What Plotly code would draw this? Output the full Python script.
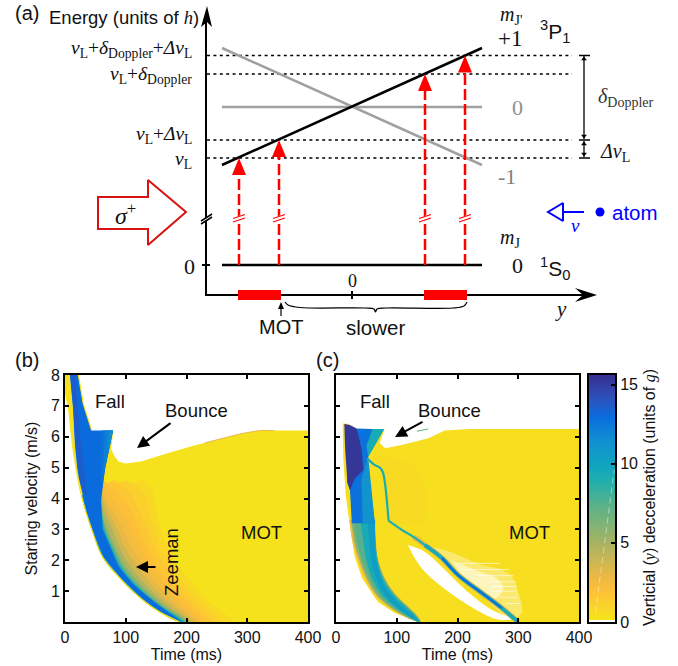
import plotly.graph_objects as go
from plotly.colors import sample_colorscale

W, H = 678, 666
SANS = "Liberation Sans"
SERIF = "Liberation Serif"
ZMAX = 15.6

# ---------- colour scale (units of g) ----------
cbar_stops = [0.0, 0.4, 1.0, 2.0, 3.0, 5.0, 7.5, 9.0, 10.0, 11.5, 13.0, 14.0, 15.6]
cbar_colors = ["#F5E61A", "#F6E01C", "#FAD42A", "#FDBF38", "#E9B945", "#A8B362", "#55B28C",
               "#1FAFAF", "#0FA4BF", "#1190D2", "#0A6BDD", "#2A54BF", "#37308F"]
cbar_levels = [0.2, 0.4, 1.0, 2.0, 3.0, 4.0, 5.0, 6.0, 7.5, 9.0, 10.0, 11.5, 13.0, 14.0, 15.6]
cbar_ticks = [0, 5, 10, 15]
cbar_x = [0, 1]

# ---------- panel ticks ----------
time_ticks = [0, 100, 200, 300, 400]
vel_ticks = [1, 2, 3, 4, 5, 6, 7, 8]

# ---------- panel (b) outlines: time (ms), starting velocity (m/s) ----------
b_left_t = [0, 3, 6.6, 12.6, 18, 21, 27, 34.6, 46, 62, 90.5, 128, 156, 189]
b_left_v = [7.5, 7.2, 6.8, 5.7, 5, 4.64, 4.1, 3.56, 2.88, 2.1, 1.42, 0.71, 0.32, 0]
b_top_t = [79.5, 76, 82, 88, 100, 125, 170, 210, 250, 290, 320, 400, 400]
b_top_v = [6.2, 5.6, 5.35, 5.2, 5.13, 5.2, 5.47, 5.7, 5.9, 6.1, 6.2, 6.2, 0]
b_strip_t = [0, 8, 13, 16.5, 20, 18, 12.6, 6.6, 3, 0]
b_strip_v = [8, 8, 6.96, 5.7, 5, 5, 5.7, 6.8, 7.2, 7.5]
# each band: deceleration level, then its right edge in time at these velocities
b_band_v = [4.6, 4.2, 3.6, 3.0, 2.4, 1.8, 1.2, 0.6, 0.0]
b_bands = [
    (0.8, [130, 145, 150, 158, 170, 187, 212, 240, 277]),
    (1.2, [100, 128, 138, 147, 158, 175, 198, 225, 255]),
    (1.6, [80, 105, 122, 135, 148, 165, 187, 212, 242]),
    (2.0, [62, 85, 108, 122, 135, 152, 175, 202, 232]),
    (2.4, [60, 70, 92, 110, 123, 142, 165, 192, 224]),
    (3.0, [60, 63, 78, 96, 110, 130, 153, 182, 216]),
    (3.8, [None, 60, 70, 86, 99, 119, 143, 173, 210]),
    (4.8, [None, 59, 65, 78, 90, 108, 133, 165, 205]),
    (6.0, [None, 59, 60, 70, 83, 100, 125, 159, 201]),
    (7.5, [None, 59, 60, 67, 80, 95, 120, 155, 198]),
    (9.0, [None, 59, 61, 65, 78, 92, 117, 152, 196]),
    (11.0, [None, 58.5, 60, 63, 76, 90, 115, 151, 194]),
]
b_wedge_t = [8, 22, 30, 44, 79, 74, 66, 59, 58, 59, 62, 75, 88, 113, 150, 192,
             158, 130, 92.5, 64, 47.5, 36, 29, 23, 20, 16.5, 13]
b_wedge_v = [8, 8, 7.07, 6.2, 6.2, 5.72, 4.97, 3.89, 4.2, 3.6, 3.0, 2.4, 1.8, 1.2, 0.6, 0,
             0.32, 0.71, 1.42, 2.1, 2.88, 3.56, 4.1, 4.64, 5, 5.7, 6.96]
b_stripes = [
    (12.6, [60, 79, 74, 66, 60], [6.2, 6.2, 5.72, 4.97, 4.2]),
    (12.1, [66, 79, 74, 66, 63], [6.2, 6.2, 5.72, 4.97, 4.8]),
    (11.6, [72, 79, 74, 70], [6.2, 6.2, 5.72, 5.6]),
]
b_dark_t = [8.5, 17, 24, 36, 30, 24, 17, 13.5]
b_dark_v = [8, 8, 6.2, 4.1, 4.2, 4.64, 5.7, 6.96]
b_rim_t = [22, 30, 44]
b_rim_v = [8, 7.07, 6.2]
b_edge_t = [230, 290, 320, 345]
b_edge_v = [5.8, 6.1, 6.2, 6.2]

# ---------- panel (c) outlines ----------
c_left_t = [11, 12, 16, 20, 22, 31, 43, 69, 97, 135]
c_left_v = [6.43, 5.3, 4.1, 3.62, 3.24, 2.1, 1.42, 0.65, 0.29, 0]
c_top_t = [135, 400, 400, 220, 179, 152, 108, 81, 72, 75, 80, 30, 20, 11]
c_top_v = [0, 0, 6.25, 6.25, 6.2, 5.95, 5.73, 5.63, 5.8, 5.95, 6.25, 6.25, 6.42, 6.43]
c_tint_t = [60, 90, 130, 150, 140, 92, 84, 76, 60]
c_tint_v = [5.5, 5.3, 5.0, 4.0, 3.2, 3.3, 4.4, 4.9, 5.3]
# falling band below the blue block: left and right edges in time at these velocities
c_band_v = [3.3, 2.6, 2.0, 1.4, 0.9, 0.5, 0.2, 0.0]
c_band_layers = [
    (2.5, [22, 27, 36, 48, 63, 85, 110, 135], [65, 66, 70, 81, 98, 119, 134, 140]),
    (6.0, [25, 30, 39, 51, 66, 88, 112, 135], [64, 65, 69, 80, 97, 118, 133, 139]),
    (7.5, [29, 34, 43, 55, 70, 92, 115, 135], [64, 65, 69, 79, 96, 116, 132, 139]),
    (9.5, [40, 45, 50, 60, 75, 96, 118, 136], [64, 65, 68, 77, 93, 114, 130, 138]),
    (10.5, [52, 55, 58, 67, 80, 100, 120, 137], [64, 64.5, 66, 74, 88, 108, 126, 137]),
]
c_upper_t = [18, 34, 60, 79, 66, 53, 51, 64, 26, 23]
c_upper_v = [4.54, 6.27, 6.25, 6.25, 5.8, 5.35, 5.2, 3.2, 3.2, 4.27]
c_upperteal_t = [50, 53, 64, 44, 42]
c_upperteal_v = [5.2, 5.35, 3.2, 3.2, 4.6]
c_tip_t = [60, 79, 66, 53, 50]
c_tip_v = [6.25, 6.25, 5.8, 5.35, 5.7]
c_navy_t = [13.7, 23, 34, 42, 45, 31, 23, 18.7, 15]
c_navy_v = [6.41, 6.38, 6.27, 5.62, 4.92, 4.65, 4.27, 4.54, 5.62]
c_fuzz_t = [150, 184, 240, 270, 290, 300, 306, 290, 240, 180]
c_fuzz_v = [2.45, 2.3, 1.85, 1.72, 1.45, 0.95, 0.3, 0.1, 0.85, 1.9]
c_fuzz2_t = [190, 240, 262, 275, 262, 230, 205]
c_fuzz2_v = [2.0, 1.6, 1.45, 1.1, 0.75, 1.05, 1.55]
c_streak_start = [200, 215, 230, 245, 255, 260, 270, 280]
c_streak_end = [270, 285, 292, 296, 298, 296, 298, 304]
c_streak_v = [1.9, 1.7, 1.5, 1.3, 1.15, 1.0, 0.8, 0.6]
c_lens_t = [118.5, 146.5, 174.5, 201, 229, 257, 290, 267, 234, 201, 168, 142, 127]
c_lens_v = [2.49, 2.27, 1.78, 1.26, 0.78, 0.39, 0.1, 0.08, 0.36, 0.76, 1.24, 1.72, 2.15]
c_thread_t = [51.6, 64, 72, 77, 81, 86.5]
c_thread_v = [5.29, 5.08, 5.0, 4.86, 4.43, 3.29]
c_diag_t = [86, 108.6, 128, 146.5, 174.5, 201, 240, 273, 300]
c_diag_v = [3.29, 2.98, 2.75, 2.49, 2.07, 1.52, 0.94, 0.45, 0.0]
c_sliver_t = [133, 152]
c_sliver_v = [6.18, 6.25]

# ---------- panel (a) schematic, in page pixels ----------
level_lo = [222, 482]
level_y_up = [165, 48]
level_y_down = [48, 165]
level_y_mid = [107, 107]
level_y_ground = [265, 265]
dotted_y = [55.5, 74, 140, 158]
laser_x = [239, 279, 425, 465]
laser_tip = [158, 140, 74, 55.5]
slow_bars = [(238, 281), (424, 467)]
sigma_x = [98, 148, 148, 186, 148, 148, 98]
sigma_y = [197, 197, 180, 212, 245, 229, 229]
brace_x = [285, 288, 300, 365, 374, 375.5, 377, 386, 453, 464, 467]
brace_y = [302, 305, 307.5, 308, 309, 312, 309, 308, 308, 306, 302]


def col(z):
    scale = [[s / ZMAX, c] for s, c in zip(cbar_stops, cbar_colors)]
    return sample_colorscale(scale, [z / ZMAX])[0]


fig = go.Figure()


def poly(xa, ya, xs, ys, color, opacity=1.0, shape="linear"):
    fig.add_trace(go.Scatter(x=xs, y=ys, xaxis=xa, yaxis=ya, mode="lines", fill="toself",
                             fillcolor=color, line=dict(width=0, shape=shape), opacity=opacity,
                             hoverinfo="skip", showlegend=False))


def line(xa, ya, xs, ys, color, width, dash=None, shape="linear", opacity=1.0):
    fig.add_trace(go.Scatter(x=xs, y=ys, xaxis=xa, yaxis=ya, mode="lines", opacity=opacity,
                             line=dict(color=color, width=width, dash=dash, shape=shape),
                             hoverinfo="skip", showlegend=False))


# ---- panel b ----
poly("x", "y", b_top_t + b_left_t[::-1][:-4], b_top_v + b_left_v[::-1][:-4], col(0.3))
poly("x", "y", b_strip_t, b_strip_v, col(0.3))
for z, ts in b_bands:
    pts = [(t, v) for t, v in zip(ts, b_band_v) if t is not None]
    keep = [i for i in range(len(b_left_v)) if b_left_v[i] < pts[0][1]]
    poly("x", "y", [p[0] for p in pts] + [b_left_t[i] for i in keep[::-1]],
         [p[1] for p in pts] + [b_left_v[i] for i in keep[::-1]], col(z), shape="spline")
poly("x", "y", b_wedge_t, b_wedge_v, col(13.0))
poly("x", "y", b_dark_t, b_dark_v, col(13.6))
for z, ts, vs in b_stripes:
    poly("x", "y", ts, vs, col(z))
line("x", "y", b_left_t, b_left_v, col(0.3), 1.2, shape="spline")
line("x", "y", b_rim_t, b_rim_v, col(0.3), 1.2)
line("x", "y", b_edge_t, b_edge_v, col(3.0), 1.0)

# ---- panel c ----
poly("x2", "y2", c_top_t + c_left_t, c_top_v + c_left_v, col(0.5))
poly("x2", "y2", c_tint_t, c_tint_v, col(0.72), shape="spline")
for z, lt, rt in c_band_layers:
    poly("x2", "y2", lt + rt[::-1], c_band_v + c_band_v[::-1], col(z), shape="spline")
poly("x2", "y2", c_upper_t, c_upper_v, col(12.7))
poly("x2", "y2", c_upperteal_t, c_upperteal_v, col(11.2))
poly("x2", "y2", c_tip_t, c_tip_v, col(9.5))
poly("x2", "y2", c_navy_t, c_navy_v, col(15.3))
poly("x2", "y2", c_fuzz_t, c_fuzz_v, "#FFFFFF", 0.35, shape="spline")
poly("x2", "y2", c_fuzz2_t, c_fuzz2_v, "#FFFFFF", 0.55, shape="spline")
for a, b, v in zip(c_streak_start, c_streak_end, c_streak_v):
    line("x2", "y2", [a, b], [v, v], "#FFFFFF", 1, opacity=0.6)
poly("x2", "y2", c_lens_t, c_lens_v, "#FFFFFF", shape="spline")
line("x2", "y2", c_diag_t[2:], c_diag_v[2:], col(3.0), 5.5, shape="spline")
line("x2", "y2", c_diag_t, c_diag_v, col(9.0), 2.2, shape="spline")
line("x2", "y2", c_diag_t[3:], c_diag_v[3:], col(9.5), 3.8, shape="spline")
line("x2", "y2", c_diag_t[4:-1], c_diag_v[4:-1], col(12.8), 2.2, shape="spline")
line("x2", "y2", c_thread_t, c_thread_v, col(9.3), 2.2, shape="spline")
line("x2", "y2", c_sliver_t, c_sliver_v, col(7.0), 1)

# ---- colour bar ----
fig.add_trace(go.Heatmap(x=cbar_x, y=cbar_levels, z=[[v, v] for v in cbar_levels], xaxis="x3", yaxis="y3",
                         zmin=0, zmax=ZMAX, zsmooth="best", showscale=False, hoverinfo="skip",
                         colorscale=[[s / ZMAX, c] for s, c in zip(cbar_stops, cbar_colors)]))
line("x3", "y3", [0.25, 0.97], [0.6, 9.6], "#FFFFFF", 1, dash="6px,4px", opacity=0.45)

# ---- panel a ----
O = ("x4", "y4")
for yy in dotted_y:
    line(*O, [207, 572], [yy, yy], "#000000", 1.6, dash="3px,3.4px")
for yy in [55.5, 140, 158]:
    line(*O, [579, 590], [yy, yy], "#000000", 1.5)
line(*O, level_lo, level_y_down, "#A0A0A0", 2.5)
line(*O, level_lo, level_y_mid, "#A0A0A0", 2.5)
line(*O, level_lo, level_y_up, "#000000", 2.5)
line(*O, level_lo, level_y_ground, "#000000", 2.5)

# axes of the schematic
line(*O, [206, 206], [20, 295], "#000000", 2)
line(*O, [205, 585], [295, 295], "#000000", 2)
poly(*O, [207, 201, 207, 212], [6, 27, 22, 27], "#000000")
poly(*O, [597, 575, 583, 575], [295, 288, 295, 302], "#000000")
line(*O, [202, 210], [265, 265], "#000000", 2)
line(*O, [352, 352], [291, 299], "#000000", 2)
line(*O, [203, 209], [219.5, 219.5], "#FFFFFF", 3)
line(*O, [201, 212, None, 201, 212], [224, 217, None, 221, 214], "#000000", 1.5)

# lasers
for x0, tip in zip(laser_x, laser_tip):
    line(*O, [x0, x0], [265, tip + 14], "#FF0000", 2.5, dash="11px,4px")
    poly(*O, [x0, x0 - 7, x0 + 7], [tip, tip + 17, tip + 17], "#FF0000")
    line(*O, [x0 - 6, x0 + 6], [220, 216], "#FFFFFF", 4)
    line(*O, [x0 - 6, x0 + 6, None, x0 - 6, x0 + 6], [222, 218, None, 218.5, 214.5], "#FF0000", 1.2)
for a, b in slow_bars:
    poly(*O, [a, b, b, a], [290, 290, 300, 300], "#FF0000")

# sigma arrow
line(*O, sigma_x + sigma_x[:2], sigma_y + sigma_y[:2], "#D81212", 2)

# brace and MOT arrow
line(*O, brace_x, brace_y, "#000000", 1.2, shape="spline")
line(*O, [281, 281], [306, 316], "#000000", 1.2)
poly(*O, [281, 278, 284], [302, 309, 309], "#000000")

# doppler span
line(*O, [584, 584], [56, 139], "#000000", 1.3)
line(*O, [584, 584], [141, 157], "#000000", 1.3)
for yy, sym in [(59, "triangle-up"), (136, "triangle-down"), (144, "triangle-up"), (154, "triangle-down")]:
    fig.add_trace(go.Scatter(x=[584], y=[yy], xaxis="x4", yaxis="y4", mode="markers", hoverinfo="skip",
                             showlegend=False, marker=dict(symbol=sym, size=5, color="#000000")))

# atom
line(*O, [548, 563, 563, 548, 563], [212, 203, 221, 212, 203], "#0000FF", 2)
line(*O, [563, 584], [212, 212], "#0000FF", 2)
fig.add_trace(go.Scatter(x=[600], y=[212], xaxis="x4", yaxis="y4", mode="markers", hoverinfo="skip",
                         showlegend=False, marker=dict(size=9, color="#0000FF")))

notes = []


def txt(x, y, s, size=18, color="#111111", family=SANS, anchor="center", angle=0):
    notes.append(dict(x=x, y=y, xref="x4", yref="y4", text=s, showarrow=False, textangle=angle,
                      font=dict(size=size, color=color, family=family), xanchor=anchor, yanchor="middle"))


def arrow(x0, y0, x1, y1):
    notes.append(dict(x=x1, y=y1, ax=x0, ay=y0, xref="x4", yref="y4", axref="x4", ayref="y4", text="",
                      showarrow=True, arrowhead=2, arrowsize=1.2, arrowwidth=2, arrowcolor="#000000"))


txt(27, 13, "(a)", 20)
txt(47, 17, "Energy (units of <span style='font-family:Liberation Serif'><i>h</i></span>)", 18.5, anchor="left")
txt(194, 49, "<i>ν</i><sub>L</sub>+<i>δ</i><sub>Doppler</sub>+<i>Δν</i><sub>L</sub>", 19.5, family=SERIF, anchor="right")
txt(194, 75, "<i>ν</i><sub>L</sub>+<i>δ</i><sub>Doppler</sub>", 19.5, family=SERIF, anchor="right")
txt(194, 135, "<i>ν</i><sub>L</sub>+<i>Δν</i><sub>L</sub>", 19.5, family=SERIF, anchor="right")
txt(194, 160, "<i>ν</i><sub>L</sub>", 19.5, family=SERIF, anchor="right")
txt(189, 266, "0", 22, family=SERIF)
txt(511, 15, "<i>m</i><sub>J'</sub>", 20, family=SERIF)
txt(510, 38, "+1", 23, family=SERIF)
txt(555, 31, "<sup>3</sup>P<sub>1</sub>", 21)
txt(517, 107, "0", 22, color="#909090", family=SERIF)
txt(507, 176, "-1", 22, color="#808080", family=SERIF)
txt(510, 238, "<i>m</i><sub>J</sub>", 20, family=SERIF)
txt(517, 265, "0", 22, family=SERIF)
txt(555, 268, "<sup>1</sup>S<sub>0</sub>", 21)
txt(626, 97, "<i>δ</i><sub>Doppler</sub>", 20, color="#333333", family=SERIF)
txt(615, 152, "<i>Δν</i><sub>L</sub>", 20, family=SERIF)
txt(575, 225, "<i>v</i>", 19, color="#0000FF", family=SERIF)
txt(635, 212, "atom", 20.5, color="#0000FF")
txt(125, 214, "<i>σ</i><sup>+</sup>", 24, family=SERIF)
txt(352, 281, "0", 18, family=SERIF)
txt(281, 327, "MOT", 20)
txt(375, 327, "slower", 20.5)
txt(561, 309, "<i>y</i>", 21, family=SERIF)

txt(27, 360, "(b)", 20)
txt(110, 401, "Fall", 18.5)
txt(196, 410, "Bounce", 18.5)
txt(171, 562, "Zeeman", 18.5, angle=-90)
txt(261, 532, "MOT", 18.5)
arrow(172, 422, 137, 448)
arrow(157, 567, 136, 567)

txt(327, 360, "(c)", 20)
txt(375, 401, "Fall", 18.5)
txt(449, 410, "Bounce", 18.5)
txt(529, 532, "MOT", 18.5)
arrow(424, 421, 395, 437)

txt(650, 498, "Verticial (<span style='font-family:Liberation Serif'><i>y</i></span>) decceleration "
              "(units of <span style='font-family:Liberation Serif'><i>g</i></span>)", 16, angle=-90)

axis_font = dict(family=SANS, size=16, color="#111111")
title_font = dict(family=SANS, size=16, color="#111111")


def dom_x(a, b):
    return [a / W, b / W]


def dom_y(top, bottom):
    return [1 - bottom / H, 1 - top / H]


def frame(**kw):
    return dict(showline=True, linecolor="#000000", linewidth=2, mirror="allticks", ticks="inside",
                ticklen=4, tickwidth=1.5, tickcolor="#000000", showgrid=False, zeroline=False,
                tickfont=axis_font, automargin=False, **kw)


fig.update_layout(
    width=W, height=H, margin=dict(l=0, r=0, t=0, b=0), paper_bgcolor="#FFFFFF", plot_bgcolor="rgba(0,0,0,0)",
    showlegend=False, annotations=notes,
    xaxis=frame(domain=dom_x(65, 308), range=[0, 400], tickvals=time_ticks, anchor="y",
                title=dict(text="Time (ms)", font=title_font, standoff=3)),
    yaxis=frame(domain=dom_y(375, 622), range=[0, 8], tickvals=vel_ticks, anchor="x",
                title=dict(text="Starting velocity (m/s)", font=title_font, standoff=9)),
    xaxis2=frame(domain=dom_x(336, 579), range=[0, 400], tickvals=time_ticks, anchor="y2",
                 title=dict(text="Time (ms)", font=title_font, standoff=3)),
    yaxis2=frame(domain=dom_y(375, 622), range=[0, 8], tickvals=vel_ticks, anchor="x2", showticklabels=False),
    xaxis3=dict(domain=dom_x(589, 615), range=[0, 1], anchor="y3", showline=True, linecolor="#000000", linewidth=2,
                mirror=True, showticklabels=False, ticks="", showgrid=False, zeroline=False, automargin=False),
    yaxis3=dict(domain=dom_y(375, 622), range=[0, 15.6], anchor="x3", side="right", tickvals=cbar_ticks,
                showline=True, linecolor="#000000", linewidth=2, mirror=True, ticks="inside", ticklen=4, tickwidth=1.5,
                tickcolor="#000000", tickfont=axis_font, showgrid=False, zeroline=False, automargin=False),
    xaxis4=dict(domain=[0, 1], range=[0, W], anchor="y4", visible=False, automargin=False),
    yaxis4=dict(domain=[0, 1], range=[H, 0], anchor="x4", visible=False, automargin=False),
)

fig.write_html("out.html", config=dict(displayModeBar=False),
               post_script="document.body.style.margin='0';")
